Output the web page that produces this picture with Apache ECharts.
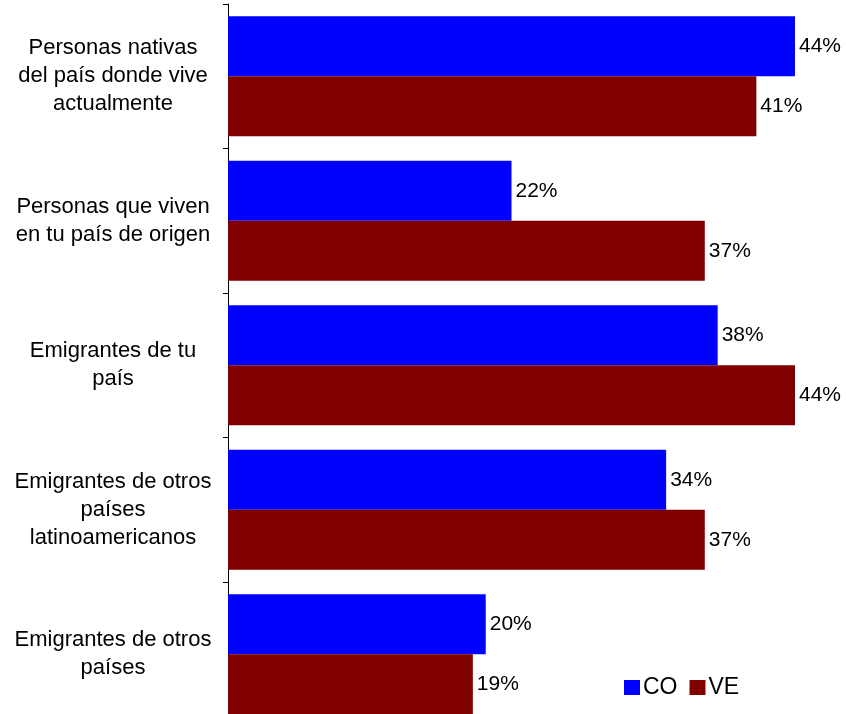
<!DOCTYPE html>
<html><head><meta charset="utf-8">
<script src="https://cdn.jsdelivr.net/npm/echarts@6/dist/echarts.min.js"></script>
<style>html,body{margin:0;padding:0;background:#fff;overflow:hidden}#c{width:846px;height:740px}</style>
</head><body><div id="c"></div>
<script>
const categories = [
  "Personas nativas\ndel país donde vive\nactualmente",
  "Personas que viven\nen tu país de origen",
  "Emigrantes de tu\npaís",
  "Emigrantes de otros\npaíses\nlatinoamericanos",
  "Emigrantes de otros\npaíses"
];
const seriesNames = ["CO", "VE"];
const coValues = [44, 22, 38, 34, 20];
const veValues = [41, 37, 44, 37, 19];

const chart = echarts.init(document.getElementById('c'), null, {renderer: 'canvas'});
const font = 'Liberation Sans, Arial, sans-serif';
const labelCfg = {show: true, position: 'right', distance: 4, formatter: '{c}%', color: '#000', fontSize: 21, fontFamily: font};
chart.setOption({
  animation: false,
  backgroundColor: '#fff',
  grid: {left: 228, top: 4, width: 567, height: 722.5, containLabel: false},
  legend: {
    data: seriesNames, left: 619, top: 671, itemWidth: 16, itemHeight: 15, itemGap: 12,
    icon: 'rect', textStyle: {fontSize: 23, fontFamily: font, color: '#000', padding: [0,0,0,-2]}
  },
  xAxis: {type: 'value', min: 0, max: 44, show: false, splitLine: {show: false}},
  yAxis: {
    type: 'category', data: categories, inverse: true,
    axisLine: {lineStyle: {color: '#000', width: 1}},
    axisTick: {show: true, length: 5, lineStyle: {color: '#000'}},
    axisLabel: {align: 'center', margin: 115, fontSize: 22, lineHeight: 28, color: '#000', fontFamily: font}
  },
  series: [
    {name: 'CO', type: 'bar', data: coValues, barWidth: 60, barGap: '0%', itemStyle: {color: '#0000FF'}, label: labelCfg},
    {name: 'VE', type: 'bar', data: veValues, barWidth: 60, itemStyle: {color: '#800000'}, label: labelCfg}
  ]
});
</script></body></html>
